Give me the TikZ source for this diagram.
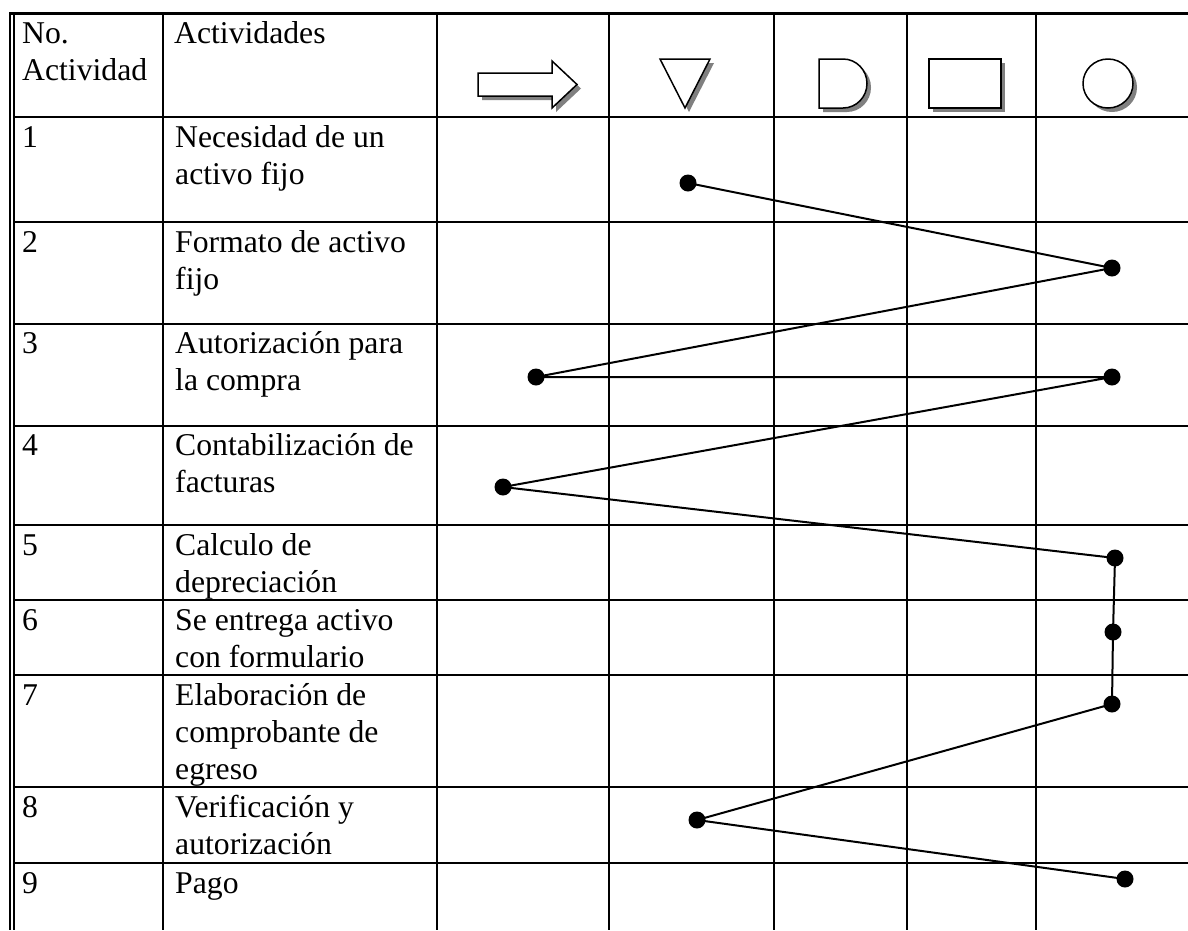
\documentclass[tikz,border=0pt]{standalone}
\usepackage{fontspec}
\setmainfont{Liberation Serif}
\begin{document}
\begin{tikzpicture}[x=1pt,y=-1pt,
  grid/.style={line width=2pt},
  txt/.style={anchor=north west, inner sep=0pt, align=left, font=\fontsize{31.7}{37}\selectfont},
  dot/.style={circle, fill=black, inner sep=0pt, minimum size=17pt},
  flow/.style={line width=2pt},
  sym/.style={draw=black, line width=1.5pt, fill=white, line join=miter},
  shade/.style={fill=black!50, draw=none}]
\useasboundingbox (0,0) rectangle (1188,930);
\fill[white] (0,0) rectangle (1188,930);

% table grid
\foreach \x in {163,437,609,774,907,1036}
  \draw[grid] (\x,13) -- (\x,930);
\foreach \y in {117,221.5,323.5,425.5,525,600,675,787,863}
  \draw[grid] (14,\y) -- (1188,\y);
\draw[line width=3.5pt] (9.3,13.5) -- (1188,13.5);
\draw[line width=1.4pt] (10,12) -- (10,930);
\draw[line width=1.4pt] (14,15) -- (14,930);

% header texts
\node[txt] (hno)  at (22,17.1) {\strut No.\\Actividad};
\node[txt] (hact) at (174,17.1) {\strut Actividades};

% header symbols: transport, storage, delay, inspection, operation
\begin{scope}[shift={(4,4)}]
  \fill[shade] (478,73) -- (552,73) -- (552,61) -- (577,84.5) -- (552,108) -- (552,96) -- (478,96) -- cycle;
  \fill[shade] (660,59) -- (710,59) -- (685,108) -- cycle;
  \fill[shade] (819,59) -- (843,59) .. controls (856.3,59) and (867,70) .. (867,83.5)
     .. controls (867,97) and (856.3,108) .. (843,108) -- (819,108) -- cycle;
  \fill[shade] (929,59) rectangle (1001,108);
  \fill[shade] (1108,83.5) ellipse [x radius=25pt, y radius=24.5pt];
\end{scope}
\draw[sym] (478,73) -- (552,73) -- (552,61) -- (577,84.5) -- (552,108) -- (552,96) -- (478,96) -- cycle;
\draw[sym] (660,59) -- (710,59) -- (685,108) -- cycle;
\draw[sym] (819,59) -- (843,59) .. controls (856.3,59) and (867,70) .. (867,83.5)
   .. controls (867,97) and (856.3,108) .. (843,108) -- (819,108) -- cycle;
\draw[sym] (929,59) rectangle (1001,108);
\draw[sym] (1108,83.5) ellipse [x radius=25pt, y radius=24.5pt];

% row numbers and activities
\node[txt] (n1) at (22,121.1) {\strut 1};
\node[txt] (a1) at (175,121.1) {\strut Necesidad de un\\activo fijo};
\node[txt] (n2) at (22,226.1) {\strut 2};
\node[txt] (a2) at (175,226.1) {\strut Formato de activo\\fijo};
\node[txt] (n3) at (22,327.1) {\strut 3};
\node[txt] (a3) at (175,327.1) {\strut Autorización para\\la compra};
\node[txt] (n4) at (22,429.1) {\strut 4};
\node[txt] (a4) at (175,429.1) {\strut Contabilización de\\facturas};
\node[txt] (n5) at (22,529.1) {\strut 5};
\node[txt] (a5) at (175,529.1) {\strut Calculo de\\depreciación};
\node[txt] (n6) at (22,604.1) {\strut 6};
\node[txt] (a6) at (175,604.1) {\strut Se entrega activo\\con formulario};
\node[txt] (n7) at (22,679.1) {\strut 7};
\node[txt] (a7) at (175,679.1) {\strut Elaboración de\\comprobante de\\egreso};
\node[txt] (n8) at (22,791.1) {\strut 8};
\node[txt] (a8) at (175,791.1) {\strut Verificación y\\autorización};
\node[txt] (n9) at (22,867.1) {\strut 9};
\node[txt] (a9) at (175,867.1) {\strut Pago};

% flow points
\node[dot] (d1)  at (688,183) {};
\node[dot] (d2)  at (1112,268) {};
\node[dot] (d3a) at (536,377) {};
\node[dot] (d3b) at (1112,377) {};
\node[dot] (d4)  at (503,487) {};
\node[dot] (d5)  at (1115,558) {};
\node[dot] (d6)  at (1113,632) {};
\node[dot] (d7)  at (1112,704) {};
\node[dot] (d8)  at (697,820) {};
\node[dot] (d9)  at (1125,879) {};

\draw[flow] (d1.center) -- (d2.center) -- (d3a.center) -- (d3b.center) -- (d4.center)
  -- (d5.center) -- (d6.center) -- (d7.center) -- (d8.center) -- (d9.center);
\end{tikzpicture}
\end{document}
